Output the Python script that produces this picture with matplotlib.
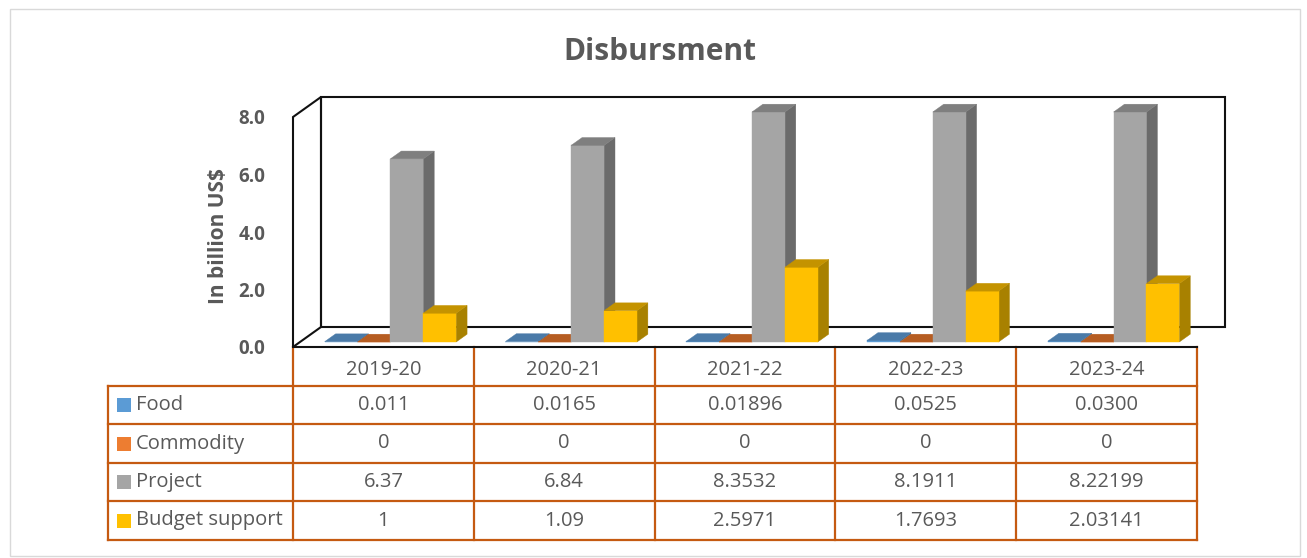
import matplotlib
matplotlib.use('Agg')
import matplotlib.pyplot as plt
from matplotlib.patches import Polygon, Rectangle
from matplotlib.lines import Line2D
import matplotlib.transforms as mtrans

# ---------------- data ----------------
categories = ['2019-20', '2020-21', '2021-22', '2022-23', '2023-24']
series_names = ['Food', 'Commodity', 'Project', 'Budget support']
food = [0.011, 0.0165, 0.01896, 0.0525, 0.0300]
commodity = [0, 0, 0, 0, 0]
project = [6.37, 6.84, 8.3532, 8.1911, 8.22199]
budget = [1, 1.09, 2.5971, 1.7693, 2.03141]
food_txt = ['0.011', '0.0165', '0.01896', '0.0525', '0.0300']
commodity_txt = ['0', '0', '0', '0', '0']
project_txt = ['6.37', '6.84', '8.3532', '8.1911', '8.22199']
budget_txt = ['1', '1.09', '2.5971', '1.7693', '2.03141']
y_ticks = [0.0, 2.0, 4.0, 6.0, 8.0]
y_max = 8.0
title = 'Disbursment'
y_label = 'In billion US$'

values = [food, commodity, project, budget]
texts = [food_txt, commodity_txt, project_txt, budget_txt]

# ---------------- style ----------------
W, H = 1307, 558
DPI = 100
FONT = 'Open Sans'
TXT = '#595959'
front_c = ['#5B9BD5', '#ED7D31', '#A5A5A5', '#FFC000']
top_c = ['#4A7AA8', '#B65D22', '#7F7F7F', '#C49300']
side_c = ['#3E6B96', '#A0501C', '#6B6B6B', '#A88100']
table_c = '#C55A11'

fig = plt.figure(figsize=(W / DPI, H / DPI), dpi=DPI)
fig.patch.set_facecolor('white')

def fx(x):
    return x / W

def fy(y):
    return 1 - y / H

# outer chart border
fig.add_artist(Rectangle((fx(10), fy(556)), fx(1300) - fx(10), fy(9) - fy(556),
                         transform=fig.transFigure, fill=False,
                         edgecolor='#D9D9D9', lw=1.0))

# plot area (front plane)
x_left, x_right, y_bot, y_top = 293, 1197, 347, 117
ax = fig.add_axes([fx(x_left), fy(y_bot), fx(x_right) - fx(x_left), fy(y_top) - fy(y_bot)])
n = len(categories)
ax.set_xlim(0, n)
ax.set_ylim(0, y_max)
for s in ax.spines.values():
    s.set_visible(False)
ax.set_xticks([])
ax.set_yticks(y_ticks)
ax.set_yticklabels([f'{t:.1f}' for t in y_ticks], fontsize=13.5, fontweight='bold',
                   color=TXT, family=FONT)
ax.tick_params(axis='y', length=0, pad=20)
ax.patch.set_alpha(0)

# depth offsets (in data units)
px_per_cat = (x_right - x_left) / n
px_per_val = (y_bot - y_top) / y_max
DX = 28 / px_per_cat
DY = 20 / px_per_val

wall_kw = dict(fill=False, edgecolor='#111111', lw=1.5, clip_on=False, joinstyle='miter')
# back wall
ax.add_patch(Polygon([(DX, DY), (n + DX, DY), (n + DX, y_max + DY), (DX, y_max + DY)],
                     closed=True, zorder=1, **wall_kw))
# left wall
ax.add_patch(Polygon([(0, 0), (DX, DY), (DX, y_max + DY), (0, y_max)],
                     closed=True, zorder=1, **wall_kw))
# floor front edge
ax.add_line(Line2D([0, n], [0, 0], color='#111111', lw=1.5, clip_on=False, zorder=1))

# bars
gap = 1.5
bw = 1 / (len(values) + gap)
d0 = 0.25  # front depth fraction
bdx, bdy = 0.39 * DX, 0.39 * DY
for i in range(n):
    for j, vals in enumerate(values):
        h = min(vals[i], y_max)
        x0 = i + gap / 2 * bw + j * bw + d0 * DX
        b = d0 * DY
        x1 = x0 + bw
        z = 3 + i * 10 + j
        ekw = dict(lw=0.3, clip_on=False, zorder=z)
        # side face
        ax.add_patch(Polygon([(x1, b), (x1 + bdx, b + bdy), (x1 + bdx, b + h + bdy), (x1, b + h)],
                             closed=True, facecolor=side_c[j], edgecolor=side_c[j], **ekw))
        # front face
        ax.add_patch(Polygon([(x0, b), (x1, b), (x1, b + h), (x0, b + h)],
                             closed=True, facecolor=front_c[j], edgecolor=front_c[j], **ekw))
        # top face
        ax.add_patch(Polygon([(x0, b + h), (x1, b + h), (x1 + bdx, b + h + bdy), (x0 + bdx, b + h + bdy)],
                             closed=True, facecolor=top_c[j], edgecolor=top_c[j], **ekw))

# title and y label
fig.text(fx(660), fy(52), title, ha='center', va='center', fontsize=21.5,
         fontweight='bold', color=TXT, family=FONT)
fig.text(fx(218), fy(236), y_label, ha='center', va='center', rotation=90,
         fontsize=15, fontweight='bold', color=TXT, family=FONT)

# data table
bt = mtrans.blended_transform_factory(ax.transData, fig.transFigure)
row_lines = [347, 386, 424, 463, 501, 540]
lw_t = 1.6
# vertical lines on category boundaries
for k in range(n + 1):
    ax.add_line(Line2D([k, k], [fy(row_lines[0]), fy(row_lines[-1])], transform=bt,
                       color=table_c, lw=lw_t, clip_on=False, zorder=0))
# left border of legend column
fig.add_artist(Line2D([fx(108), fx(108)], [fy(row_lines[1]), fy(row_lines[-1])],
                      color=table_c, lw=lw_t))
for yl in row_lines[1:]:
    fig.add_artist(Line2D([fx(108), fx(x_right)], [fy(yl), fy(yl)], color=table_c, lw=lw_t))

tfs = 14.5
header_y = 370
for k, c in enumerate(categories):
    fig.text(0, 0, c, transform=bt, fontsize=tfs, color=TXT, family=FONT,
             ha='center', va='center').set_position((k + 0.5, fy(header_y)))
for r, name in enumerate(series_names):
    yc = (row_lines[r + 1] + row_lines[r + 2]) / 2
    fig.add_artist(Rectangle((fx(117), fy(yc + 7)), fx(14), 14 / H,
                             transform=fig.transFigure, facecolor=front_c[r], edgecolor='none'))
    fig.text(fx(136), fy(yc), name, ha='left', va='center', fontsize=tfs, color=TXT, family=FONT)
    for k in range(n):
        fig.text(0, 0, texts[r][k], transform=bt, fontsize=tfs, color=TXT, family=FONT,
                 ha='center', va='center').set_position((k + 0.5, fy(yc)))

fig.savefig('out.png', dpi=DPI, facecolor='white')
